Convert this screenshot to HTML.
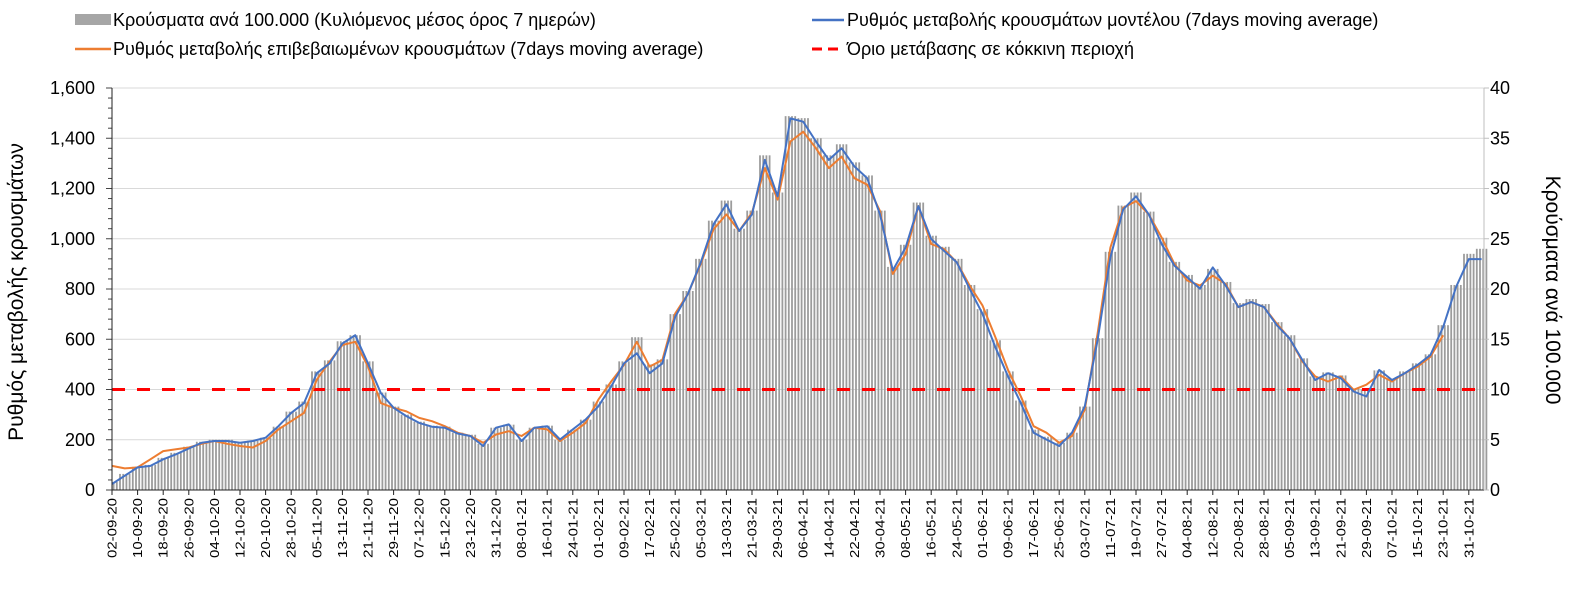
<!DOCTYPE html>
<html><head><meta charset="utf-8">
<style>
body{margin:0;background:#fff;}
svg text{font-family:"Liberation Sans","DejaVu Sans",sans-serif;fill:#000;}
</style></head>
<body>
<svg id="chart" width="1570" height="587" viewBox="0 0 1570 587" xmlns="http://www.w3.org/2000/svg">
  <g>
    <g>
      <rect x="75" y="14" width="36" height="11" fill="#a6a6a6"/>
      <text x="113" y="26" font-size="18">Κρούσματα ανά 100.000 (Κυλιόμενος μέσος όρος 7 ημερών)</text>
    </g>
    <g>
      <line x1="812" y1="20" x2="844" y2="20" stroke="#4472c4" stroke-width="2.5"/>
      <text x="847" y="26" font-size="18">Ρυθμός μεταβολής κρουσμάτων μοντέλου (7days moving average)</text>
    </g>
    <g>
      <line x1="75" y1="49" x2="111" y2="49" stroke="#ed7d31" stroke-width="2.5"/>
      <text x="113" y="55" font-size="18">Ρυθμός μεταβολής επιβεβαιωμένων κρουσμάτων (7days moving average)</text>
    </g>
    <g>
      <line x1="812" y1="49" x2="844" y2="49" stroke="#ff0000" stroke-width="3" stroke-dasharray="10,6"/>
      <text x="847" y="55" font-size="18">Όριο μετάβασης σε κόκκινη περιοχή</text>
    </g>
  </g>
  <g id="grid"></g>
  <g id="bars"></g>
  <g id="lines"></g>
  <g id="axes"></g>
  <text font-size="21" text-anchor="middle" transform="translate(23,292) rotate(-90)">Ρυθμός μεταβολής κρουσμάτων</text>
  <text font-size="21" text-anchor="middle" transform="translate(1546,290) rotate(90)">Κρούσματα ανά 100.000</text>
</svg>
<script>
const modelRate=[24,57,90,96,122,142,165,188,195,195,188,195,208,254,307,346,465,504,583,616,504,386,327,294,267,252,248,225,215,175,248,261,195,248,254,201,241,280,333,412,504,544,465,504,689,781,906,1058,1137,1031,1097,1314,1169,1479,1466,1387,1314,1360,1288,1241,1097,874,965,1130,999,952,906,801,702,570,452,346,228,201,175,228,333,597,926,1117,1169,1097,979,893,847,801,886,814,728,748,728,656,603,517,438,465,445,392,372,478,438,465,498,537,649,807,919,919];
const confirmedRate=[96,86,90,122,155,162,169,184,195,184,175,169,195,241,274,307,439,511,577,590,491,346,327,313,287,274,254,228,215,188,221,234,215,248,241,195,228,267,360,432,498,590,491,518,702,781,900,1038,1097,1031,1104,1281,1156,1387,1426,1360,1281,1327,1241,1215,1110,860,939,1130,979,959,906,814,735,610,478,373,254,228,188,215,320,623,965,1123,1150,1097,1005,900,834,814,853,820,728,748,728,662,603,511,452,432,452,399,419,458,432,465,491,530,616];
const casesPer100k=[0.8,1.6,2.3,2.5,3.2,3.7,4.3,4.8,5.0,5.0,4.8,4.9,5.2,6.3,7.8,8.8,11.8,12.9,14.8,15.4,12.8,9.7,8.3,7.5,6.8,6.4,6.3,5.7,5.5,4.6,6.2,6.5,5.0,6.2,6.4,5.0,6.0,7.0,8.8,10.5,12.8,15.2,12.5,13.0,17.5,19.8,23.0,26.8,28.8,26.0,27.8,33.3,29.6,37.2,37.0,35.0,33.3,34.4,32.6,31.3,27.8,22.2,24.4,28.6,25.3,24.2,23.0,20.4,18.0,14.9,11.8,8.9,6.0,5.3,4.7,5.7,8.3,15.1,23.7,28.3,29.6,27.7,25.1,22.7,21.4,20.4,22.0,20.7,18.6,19.0,18.5,16.7,15.4,13.1,11.3,11.7,11.4,10.1,10.0,11.9,11.1,11.8,12.6,13.5,16.4,20.4,23.5,24.0];
const leftTicks=[0,200,400,600,800,1000,1200,1400,1600];
const rightTicks=[0,5,10,15,20,25,30,35,40];
const redThreshold=400;
const stepDays=4;
const startDate=[2020,8,2];
const labelEveryDays=8;
const labelCount=54;

const NS='http://www.w3.org/2000/svg';
const X0=112,X1=1484,PXDAY=3.2,Y0=490,YTOP=88;
const yL=v=>Y0-(v/1600)*(Y0-YTOP);
const yR=v=>Y0-(v/40)*(Y0-YTOP);
const xDay=t=>X0+t*PXDAY;
function mk(tag,attrs,parent){const e=document.createElementNS(NS,tag);for(const k in attrs)e.setAttribute(k,attrs[k]);parent.appendChild(e);return e;}
const grid=document.getElementById('grid'),bars=document.getElementById('bars'),lines=document.getElementById('lines'),axes=document.getElementById('axes');

leftTicks.forEach(v=>{
  if(v>0){const g=mk('line',{x1:X0,x2:X1,y1:yL(v),y2:yL(v),stroke:'#d9d9d9','stroke-width':1},grid);
  
  }
  const t=mk('text',{x:95,y:yL(v)+6,'font-size':18,'text-anchor':'end'},axes);t.textContent=v.toLocaleString('en-US');
  
  
});
rightTicks.forEach(v=>{
  const t=mk('text',{x:1490,y:yR(v)+6,'font-size':18},axes);t.textContent=v;
  
  
});
for(let v=0;v<=1600;v+=40){mk('line',{x1:X0-(v%200===0?6:4),x2:X0,y1:yL(v),y2:yL(v),stroke:'#444','stroke-width':1},axes);}

casesPer100k.forEach((c,i)=>{
  for(let d=0;d<4;d++){
    const t=i*stepDays-1.5+d;
    if(t<0)continue;
    const b=mk('rect',{x:xDay(t)-0.9,y:yR(c),width:1.8,height:Y0-yR(c),fill:'#9c9c9c'},bars);
    
    
  }
});

const th=mk('line',{x1:X0,x2:1478,y1:yL(redThreshold),y2:yL(redThreshold),stroke:'#ff0000','stroke-width':3,'stroke-dasharray':'13,12'},lines);



function path(arr,color,name){
  const d=arr.map((v,i)=>(i?'L':'M')+xDay(i*stepDays).toFixed(1)+','+yL(v).toFixed(1)).join('');
  const p=mk('path',{d:d,fill:'none',stroke:color,'stroke-width':2,'stroke-linejoin':'round'},lines);
  
  
}
path(confirmedRate,'#ed7d31','confirmed-rate-line');
path(modelRate,'#4472c4','model-rate-line');

mk('line',{x1:X0,x2:X0,y1:YTOP,y2:Y0,stroke:'#222','stroke-width':1},axes);
mk('line',{x1:X0,x2:X1,y1:Y0,y2:Y0,stroke:'#222','stroke-width':1},axes);
mk('line',{x1:X1,x2:X1,y1:YTOP,y2:Y0,stroke:'#bfbfbf','stroke-width':1},axes);
for(let v=0;v<=40;v+=5){mk('line',{x1:X1,x2:X1+5,y1:yR(v),y2:yR(v),stroke:'#bfbfbf','stroke-width':1},axes);}

const pad=n=>String(n).padStart(2,'0');
for(let k=0;k<labelCount;k++){
  const dt=new Date(startDate[0],startDate[1],startDate[2]+k*labelEveryDays);
  const s=pad(dt.getDate())+'-'+pad(dt.getMonth()+1)+'-'+String(dt.getFullYear()).slice(2);
  const x=xDay(k*labelEveryDays);
  mk('line',{x1:x,x2:x,y1:Y0,y2:Y0+5,stroke:'#222','stroke-width':1},axes);
  const t=mk('text',{'font-size':13,'text-anchor':'end',textLength:60,lengthAdjust:'spacingAndGlyphs',transform:`translate(${x+4.5},${Y0+8}) rotate(-90)`},axes);
  t.textContent=s;
  
  
}
</script>
</body></html>
